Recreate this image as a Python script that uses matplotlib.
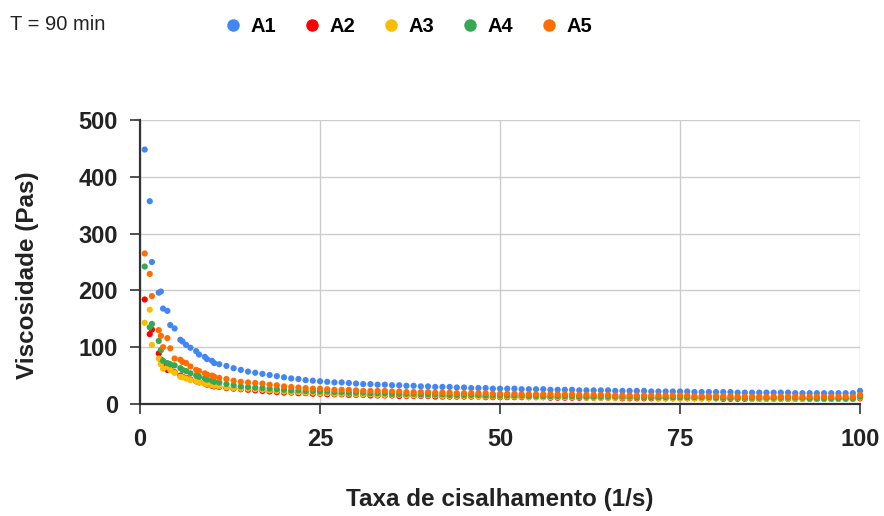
import matplotlib
matplotlib.use("Agg")
import matplotlib.pyplot as plt
from matplotlib.lines import Line2D

plt.rcParams['font.family'] = ['Liberation Sans', 'DejaVu Sans']

# taxa de cisalhamento (1/s)
taxa = [0.65, 1.35, 1.65, 2.6, 2.9, 3.2, 3.8, 4.2, 4.8, 5.6, 5.9, 6.4, 7.0, 7.8,
        8.2, 9.0, 9.3, 10.0, 10.3, 11.0, 12.0, 13.0, 14.0,
        15, 16, 17, 18, 19, 20, 21, 22, 23, 24, 25, 26, 27, 28, 29, 30,
        31, 32, 33, 34, 35, 36, 37, 38, 39, 40, 41, 42, 43, 44, 45, 46,
        47, 48, 49, 50, 51, 52, 53, 54, 55, 56, 57, 58, 59, 60, 61, 62,
        63, 64, 65, 66, 67, 68, 69, 70, 71, 72, 73, 74, 75, 76, 77, 78,
        79, 80, 81, 82, 83, 84, 85, 86, 87, 88, 89, 90, 91, 92, 93, 94,
        95, 96, 97, 98, 99, 100]

# viscosidade (Pas) de cada amostra
a1 = [448, 357, 250, 196, 198, 168, 164, 139, 133, 113, 110, 104, 99, 93,
      87, 83, 79, 76, 72, 70, 67, 63, 60,
      57, 55, 53, 51, 49, 47, 45, 44, 42, 41, 40, 39, 38, 38, 37, 36,
      35, 35, 34, 34, 33, 33, 32, 32, 31, 31, 30, 30, 30, 29, 29, 28,
      28, 28, 27, 27, 27, 27, 26, 26, 26, 26, 25, 25, 25, 25, 24, 24,
      24, 24, 24, 23, 23, 23, 23, 23, 22, 22, 22, 22, 22, 22, 21, 21,
      21, 21, 21, 21, 20, 20, 20, 20, 20, 20, 20, 20, 19, 19, 19, 19,
      19, 19, 19, 19, 19, 23]
a2 = [184, 123, 131, 89, 78, 70, 60, 62, 56, 50, 48, 46, 43, 40,
      38, 36, 34, 32, 31, 30, 28, 27, 26,
      25, 24, 23, 22, 21, 20, 20, 19, 19, 18, 18, 17, 17, 17, 16, 16,
      16, 15, 15, 15, 15, 14, 14, 14, 14, 14, 13, 13, 13, 13, 13, 13,
      13, 12, 12, 12, 12, 12, 12, 12, 12, 12, 11, 11, 11, 11, 11, 11,
      11, 11, 11, 11, 10, 10, 10, 10, 10, 10, 10, 10, 10, 10, 10, 10,
      10, 10, 9, 9, 9, 9, 9, 9, 9, 9, 9, 9, 9, 9, 9, 9,
      9, 9, 9, 9, 9, 10]
a3 = [143, 166, 104, 80, 70, 62, 65, 60, 55, 48, 47, 45, 42, 40,
      38, 36, 35, 33, 32, 31, 29, 28, 27,
      27, 26, 25, 24, 23, 22, 21, 21, 20, 20, 19, 19, 18, 18, 18, 17,
      17, 17, 16, 16, 16, 16, 15, 15, 15, 15, 15, 14, 14, 14, 14, 14,
      13, 13, 13, 13, 13, 13, 13, 12, 12, 12, 12, 12, 12, 12, 12, 11,
      11, 11, 11, 11, 11, 11, 11, 11, 11, 10, 10, 10, 10, 10, 10, 10,
      10, 10, 10, 10, 10, 10, 9, 9, 9, 9, 9, 9, 9, 9, 9, 9,
      9, 9, 9, 9, 9, 11]
a4 = [242, 135, 141, 111, 95, 76, 72, 70, 68, 63, 60, 58, 54, 50,
      48, 45, 43, 41, 39, 38, 35, 33, 31,
      30, 29, 28, 27, 26, 25, 24, 24, 23, 23, 22, 22, 21, 21, 20, 20,
      20, 19, 19, 19, 18, 18, 18, 18, 17, 17, 17, 17, 16, 16, 16, 16,
      16, 15, 15, 15, 15, 15, 15, 14, 14, 14, 14, 14, 14, 14, 13, 13,
      13, 13, 13, 13, 13, 13, 12, 12, 12, 12, 12, 12, 12, 12, 12, 12,
      12, 11, 11, 11, 11, 11, 11, 11, 11, 11, 11, 11, 11, 11, 10, 10,
      10, 10, 10, 10, 10, 13]
a5 = [265, 229, 190, 130, 120, 100, 116, 98, 80, 78, 74, 72, 66, 60,
      58, 54, 52, 50, 48, 46, 44, 41, 39,
      38, 37, 36, 34, 33, 31, 30, 29, 28, 27, 27, 26, 25, 25, 25, 24,
      23, 23, 23, 23, 22, 22, 21, 21, 21, 21, 20, 20, 20, 19, 19, 19,
      19, 19, 18, 18, 18, 18, 17, 17, 17, 17, 17, 17, 17, 17, 16, 16,
      16, 16, 16, 15, 15, 15, 15, 15, 15, 15, 15, 15, 15, 15, 14, 14,
      14, 14, 14, 14, 13, 13, 13, 13, 13, 13, 13, 13, 13, 13, 13, 13,
      13, 13, 13, 13, 13, 16]

nomes = ['A1', 'A2', 'A3', 'A4', 'A5']
cores = ['#4285F4', '#FF0000', '#FBBC04', '#34A853', '#FF6D01']

fig = plt.figure(figsize=(8.84, 5.16), dpi=100)
ax = fig.add_axes([0.1584, 0.2171, 0.8145, 0.5503])

for serie, nome, cor in zip([a1, a2, a3, a4, a5], nomes, cores):
    ax.scatter(taxa, serie, s=20, color=cor, edgecolors='none', label=nome,
               zorder=3, clip_on=False)

ax.set_xlim(0, 100)
ax.set_ylim(0, 500)
ax.set_xticks([0, 25, 50, 75, 100])
ax.set_yticks([0, 100, 200, 300, 400, 500])
ax.grid(True, color='#cccccc', linewidth=1, zorder=0)
ax.set_axisbelow(True)

for lado in ['top', 'right']:
    ax.spines[lado].set_visible(False)
for lado in ['left', 'bottom']:
    ax.spines[lado].set_color('#333333')
    ax.spines[lado].set_linewidth(1.6)

ax.tick_params(axis='both', colors='#333333', width=1.2, length=7,
               labelsize=17, labelcolor='#222222')
ax.tick_params(axis='x', pad=10)
ax.tick_params(axis='y', pad=9)
for lab in ax.get_xticklabels() + ax.get_yticklabels():
    lab.set_fontweight('bold')

ax.set_xlabel('Taxa de cisalhamento (1/s)', fontsize=17.5, fontweight='bold',
              color='#222222', va='center')
ax.set_ylabel('Viscosidade (Pas)', fontsize=17.5, fontweight='bold',
              color='#222222', va='center')
ax.xaxis.set_label_coords(0.5, -0.338)
ax.yaxis.set_label_coords(-0.156, 0.455)

fig.text(10 / 884, 1 - 24 / 516, 'T = 90 min', fontsize=14.5, color='#222222',
         va='center', ha='left')

marcas = [Line2D([], [], marker='o', linestyle='none', markersize=9,
                 markerfacecolor=c, markeredgecolor='none') for c in cores]
fig.legend(marcas, nomes, loc='center left', ncol=5, frameon=False,
           bbox_to_anchor=(203 / 884, 1 - 27 / 516), handletextpad=0.25,
           columnspacing=1.2, handlelength=1.2,
           prop={'size': 14.5, 'weight': 'bold'})

fig.savefig('out.png', dpi=100)
